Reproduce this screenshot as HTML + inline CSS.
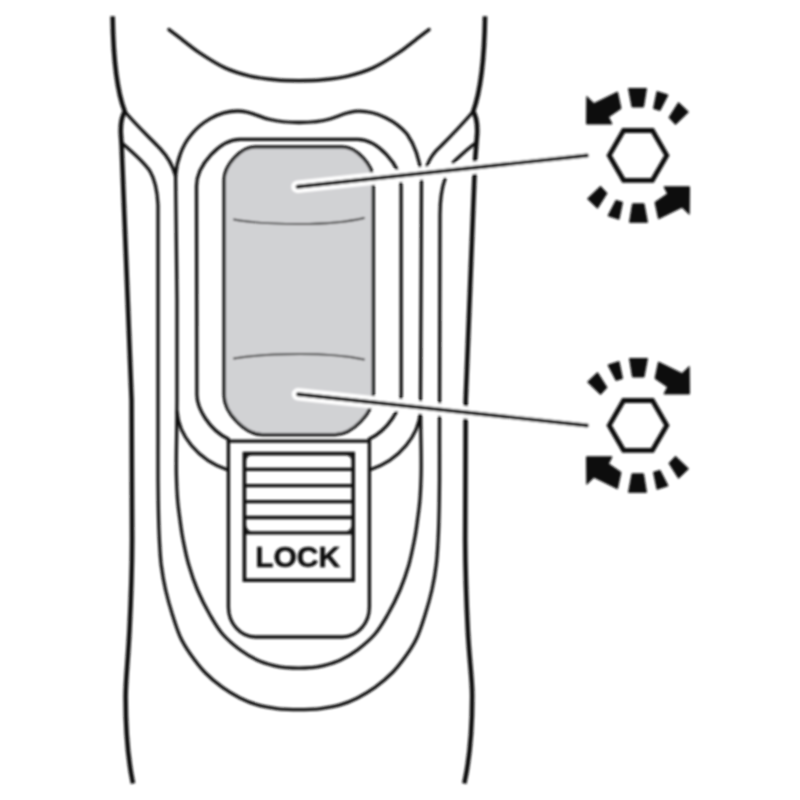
<!DOCTYPE html>
<html>
<head>
<meta charset="utf-8">
<title>Switch diagram</title>
<style>
html,body{margin:0;padding:0;background:#fff;}
body{width:800px;height:800px;overflow:hidden;font-family:"Liberation Sans",sans-serif;}
svg{display:block;}
</style>
</head>
<body>
<svg width="800" height="800" viewBox="0 0 800 800">
<defs><filter id="soft" x="0" y="0" width="800" height="800" filterUnits="userSpaceOnUse"><feGaussianBlur stdDeviation="0.8"/></filter></defs>
<rect width="800" height="800" fill="#ffffff"/>
<g filter="url(#soft)">
<g fill="none" stroke="#111" stroke-linecap="round" stroke-linejoin="round">
  <!-- outer body -->
  <g stroke-width="4.6" stroke-linecap="butt">
    <path d="M112.6,16.3 C113.2,55 116.3,90 124.8,111.5 C121.5,117 120.5,125 120.8,133 L121.6,145 L127.7,300 L131.6,400 L132.1,540 C132,580 130.5,610 129.5,630 C128,660 125.6,680 125.6,697 C125.6,730 128.5,762 133,783.5"/>
    <path d="M485,16.3 C484.5,55 481,90 473.2,111.5 C476.5,117 477.5,125 477.2,133 L475.1,160 L465.7,400 L465.2,540 C465.4,580 466.8,610 467.8,630 C469.3,660 472.2,678 472.2,695 C472.3,730 469,762 464.3,783.5"/>
  </g>
  <!-- top arc -->
  <path stroke-width="3.4" d="M169.0,29.6 C174.0,33.4 178.8,37.2 184.0,41.1 C189.2,45.0 193.2,48.7 200.0,53.2 C206.8,57.7 216.7,64.1 225.0,67.9 C233.3,71.7 241.7,74.1 250.0,76.1 C258.3,78.1 266.8,79.0 275.0,79.8 C283.2,80.6 291.0,80.7 299.0,80.7 C307.0,80.7 314.8,80.6 323.0,79.8 C331.2,79.0 339.7,78.1 348.0,76.1 C356.3,74.1 364.7,71.7 373.0,67.9 C381.3,64.1 391.2,57.7 398.0,53.2 C404.8,48.7 408.8,45.0 414.0,41.1 C419.2,37.2 424.0,33.4 429.0,29.6"/>
  <g stroke-width="3.3">
    <!-- left diagonals -->
    <path d="M124.8,111.5 C135,124 150,138 160,148.5 C168,157 173,166 175.6,176"/>
    <path d="M121.5,142.8 C131,151 143,161 150,171.25 C154,178 157.3,190 158,205 L158,440 C158.0,453.3 157.9,468.3 158.0,480.0 C158.1,491.7 158.2,500.0 158.4,510.0 C158.6,520.0 158.9,530.8 159.4,540.0 C159.9,549.2 160.2,556.7 161.2,565.0 C162.3,573.3 163.7,581.7 165.6,590.0 C167.5,598.3 170.0,607.1 172.5,615.0 C175.0,622.9 177.4,630.8 180.5,637.5 C183.6,644.2 186.9,649.2 191.0,655.0 C195.1,660.8 199.8,667.1 205.0,672.5 C210.2,677.9 216.7,683.2 222.5,687.4 C228.3,691.6 234.2,695.0 240.0,697.9 C245.8,700.8 251.7,703.2 257.5,704.9 C263.3,706.6 270.1,707.5 275.0,708.3 C279.9,709.0 283.0,709.2 287.0,709.4 C291.0,709.6 294.8,709.7 298.8,709.7 C302.7,709.7 306.5,709.6 310.5,709.4 C314.5,709.2 317.6,709.0 322.5,708.3 C327.4,707.5 334.2,706.6 340.0,704.9 C345.8,703.2 351.7,700.8 357.5,697.9 C363.3,695.0 369.2,691.6 375.0,687.4 C380.8,683.2 387.2,677.9 392.5,672.5 C397.8,667.1 402.4,660.8 406.5,655.0 C410.6,649.2 413.9,644.2 417.0,637.5 C420.1,630.8 422.5,622.9 425.0,615.0 C427.5,607.1 430.0,598.3 431.9,590.0 C433.8,581.7 435.2,573.3 436.2,565.0 C437.3,556.7 437.6,549.2 438.1,540.0 C438.6,530.8 438.9,520.0 439.1,510.0 C439.3,500.0 439.4,491.7 439.5,480.0 C439.6,468.3 439.5,453.3 439.5,440.0 L440,215 C440,200 441,190 445,179"/>
    <path d="M453,162.6 C460,156 468,148 476,142.8"/>
    <path d="M426.7,166.5 C429,160 433,153 441,146 C450,137 462.5,124 473.2,111.5"/>
    <!-- third outline (wavy) + inner U -->
    <path d="M175.6,176 C176.5,160 183,145 190,136.25 C200,123 218,111 237.5,111 C252,111 258,117 270,119.5 C280,122 290,122.5 299,122.5 C310,122.5 320,122 330,119 C340,116 347,111.2 359,111.2 C377,111.2 396,121 407,134 C414,144 419.5,158 421.5,176"/>
    <path d="M175.6,176 L177,300 L177,400 C176.9,408.3 176.9,416.7 176.8,425.0 C176.7,433.3 176.5,441.7 176.4,450.0 C176.3,458.3 176.2,466.7 176.4,475.0 C176.6,483.3 177.0,492.5 177.6,500.0 C178.2,507.5 179.1,513.3 180.0,520.0 C180.9,526.7 181.6,532.5 183.1,540.0 C184.6,547.5 186.3,556.7 188.8,565.0 C191.2,573.3 194.0,581.7 197.5,590.0 C201.0,598.3 205.8,607.7 210.0,615.0 C214.2,622.3 217.5,628.2 222.5,634.0 C227.5,639.8 234.2,645.4 240.0,649.8 C245.8,654.1 251.7,657.6 257.5,660.2 C263.3,662.9 270.1,664.6 275.0,665.9 C279.9,667.1 283.0,667.3 287.0,667.7 C291.0,668.1 294.8,668.2 298.8,668.2 C302.7,668.2 306.5,668.1 310.5,667.7 C314.5,667.3 317.6,667.1 322.5,665.9 C327.4,664.6 334.2,662.9 340.0,660.2 C345.8,657.6 351.7,654.1 357.5,649.8 C363.3,645.4 370.0,639.8 375.0,634.0 C380.0,628.2 383.3,622.3 387.5,615.0 C391.7,607.7 396.5,598.3 400.0,590.0 C403.5,581.7 406.4,573.3 408.8,565.0 C411.1,556.7 412.9,547.5 414.4,540.0 C415.9,532.5 416.6,526.7 417.5,520.0 C418.4,513.3 419.3,507.5 419.9,500.0 C420.5,492.5 420.9,483.3 421.1,475.0 C421.3,466.7 421.2,458.3 421.1,450.0 C421.0,441.7 420.8,433.3 420.7,425.0 C420.6,416.7 420.6,408.3 420.5,400.0 L421,300 L421.5,176"/>
    <path d="M177.2,412 C178.5,434 197,460 228,470"/>
    <path d="M420.4,412 C419,434 400.5,460 369.5,470"/>
    <!-- second outline -->
    <path d="M228.3,439 C209,430 197,408 196.9,395 L196.5,186 C196.5,165 220.3,139.3 240,139.3 L357.6,139.3 C377.3,139.3 401.1,165 401.1,186 L401.2,395 C401,408 388.5,430 369.3,439"/>
    <path d="M228.3,441.2 L369.3,441.2"/>
    <!-- lock housing -->
    <path d="M228.4,441 L228.4,607 A27,30 0 0 0 255.4,637 L342.4,637 A27,30 0 0 0 369.4,607 L369.4,441"/>
  </g>
  <!-- grey button -->
  <path stroke-width="3.3" fill="#d1d2d4" d="M224.1,180 C224.1,165.2 241,146.9 255,146.9 L342.4,146.9 C356.4,146.9 373.3,165.2 373.3,180 L373.3,395 C373.3,412.8 352.4,434.6 335.4,434.6 L262,434.6 C245,434.6 224.1,412.8 224.1,395 Z"/>
  <g stroke="#3c3c3c" stroke-width="1.9">
    <path d="M234,219.5 C255,223.5 280,224 300,224 C320,224 345,222.5 364,218"/>
    <path d="M234,358.5 C255,355 280,354 300,354 C320,354 345,355.5 364,359.5"/>
  </g>
  <!-- slider -->
  <rect x="244.4" y="453.6" width="108.8" height="126.6" stroke-width="3.6" stroke-linejoin="miter"/>
  <g fill="#111" stroke="none">
    <path d="M246,455.2 L246,461 A5.8,5.8 0 0 1 251.8,455.2 Z"/>
    <path d="M351.6,455.2 L351.6,461 A5.8,5.8 0 0 0 345.8,455.2 Z"/>
    <path d="M246,531.4 L246,525 A6.4,6.4 0 0 0 252.4,531.4 Z"/>
    <path d="M351.6,531.4 L351.6,525 A6.4,6.4 0 0 1 345.2,531.4 Z"/>
  </g>
  <path d="M245,532.9 H352.5" stroke-width="3.3" stroke-linecap="butt"/>
  <g stroke-width="3.3" stroke-linecap="butt">
    <path d="M245,469.3 H352.5"/>
    <path d="M245,485.7 H352.5"/>
    <path d="M245,501.7 H352.5"/>
    <path d="M245,517.5 H352.5"/>
  </g>
</g>
<text x="255.2" y="566.9" font-family="'Liberation Sans', sans-serif" font-weight="700" font-size="30" fill="#111" stroke="#111" stroke-width="0.5">LOCK</text>
<!-- leaders with halo -->
<g fill="none" stroke-linecap="round">
  <path d="M297.5,186.75 L587,155.5" stroke="#fff" stroke-width="12.5"/>
  <path d="M298,394.25 L587,425.5" stroke="#fff" stroke-width="12.5"/>
  <path d="M297.5,186.75 L587,155.5" stroke="#0a0a0a" stroke-width="3.8"/>
  <path d="M298,394.25 L587,425.5" stroke="#0a0a0a" stroke-width="3.8"/>
</g>
<!-- icons -->
<defs>
  <g id="half" fill="#111" stroke="#111" stroke-width="1.0" stroke-linejoin="miter">
    <polygon points="586.8,96.5 586.5,124 612,124 608.5,117 621,108.5 617.5,92 594,103.5"/>
    <polygon points="628.5,88.5 646.5,88.5 643.5,107 632,107"/>
    <polygon points="657,91.5 668,95 660,110.5 653.5,108.5"/>
    <polygon points="678.5,102.5 688.5,112 675.5,124.5 669,117.5"/>
  </g>
  <g id="icon">
    <use href="#half"/>
    <use href="#half" transform="rotate(180 638 155.4)"/>
    <polygon points="609.2,155.4 623.6,130.5 652.4,130.5 666.8,155.4 652.4,180.3 623.6,180.3" fill="none" stroke="#111" stroke-width="4.8" stroke-linejoin="miter"/>
  </g>
</defs>
<use href="#icon"/>
<use href="#icon" transform="translate(1276 270) scale(-1 1)"/>
</g>
</svg>
</body>
</html>
